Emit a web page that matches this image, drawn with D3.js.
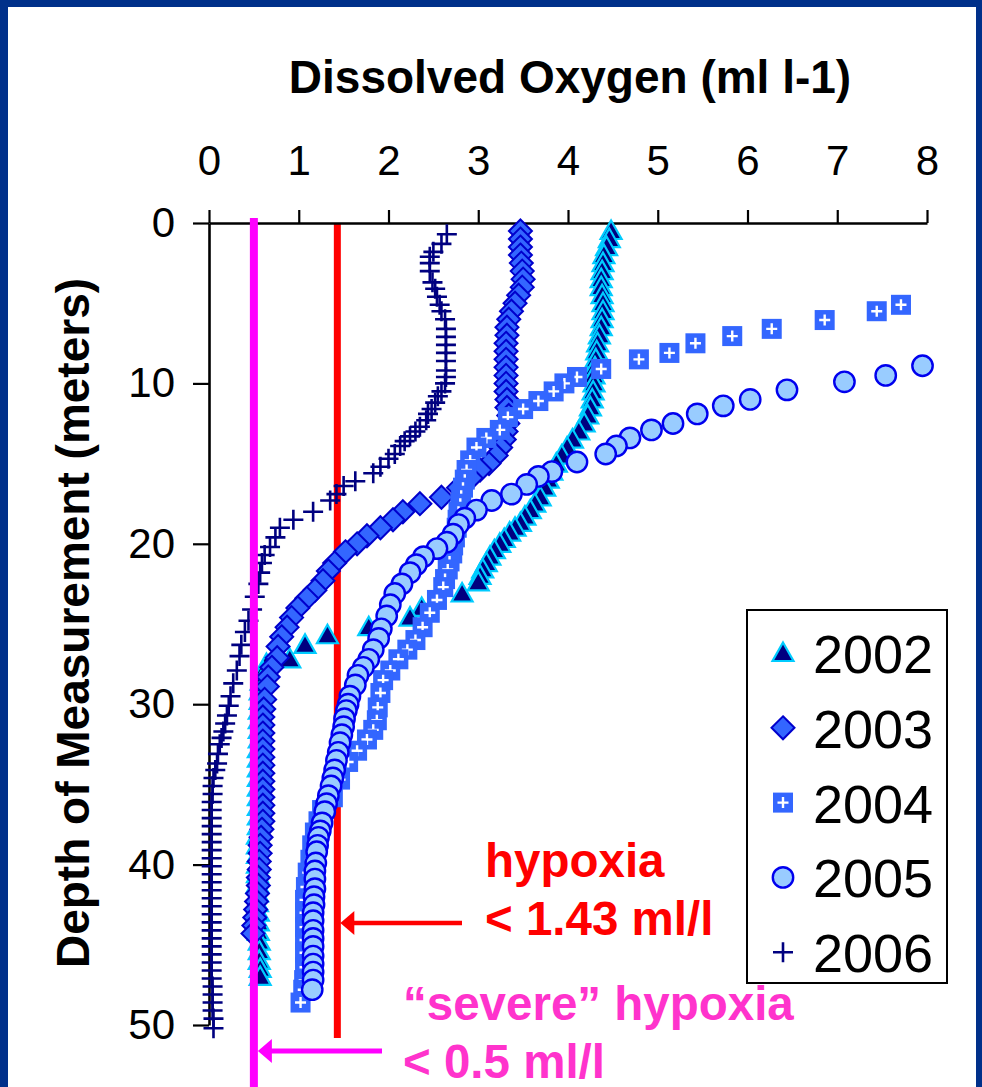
<!DOCTYPE html>
<html>
<head>
<meta charset="utf-8">
<script src="https://cdn.jsdelivr.net/npm/d3@7"></script>
<style>
  html, body { margin: 0; padding: 0; background: #ffffff; }
  svg { display: block; font-family: "Liberation Sans", Arial, sans-serif; }
</style>
</head>
<body>
<svg id="chart" width="982" height="1087"></svg>
<script>
// Dissolved oxygen profiles: [oxygen (ml/l), depth (m)]
const oxygenTicks = [0, 1, 2, 3, 4, 5, 6, 7, 8];
const depthTicks = [0, 10, 20, 30, 40, 50];
const years = ["2002", "2003", "2004", "2005", "2006"];

const profile2002 = [
  [4.48,0.5],[4.46,1.0],[4.43,1.5],[4.40,2.0],[4.39,2.5],[4.38,3.0],[4.37,3.5],[4.37,4.0],
  [4.38,4.5],[4.39,5.0],[4.39,5.5],[4.38,6.0],[4.37,6.5],[4.35,7.0],[4.33,7.5],[4.32,8.0],
  [4.31,8.5],[4.30,9.0],[4.29,9.5],[4.29,10.0],[4.28,10.5],[4.27,11.0],[4.25,11.5],[4.22,12.0],
  [4.18,12.5],[4.12,13.0],[4.05,13.5],[3.99,14.0],[3.93,14.5],[3.87,15.0],[3.82,15.5],[3.78,16.0],
  [3.74,16.5],[3.69,17.1],[3.63,17.5],[3.58,17.9],[3.52,18.3],[3.47,18.7],[3.41,19.0],[3.35,19.3],
  [3.29,19.7],[3.24,20.0],[3.18,20.4],[3.13,20.8],[3.09,21.2],[3.05,21.6],[3.02,22.0],[3.00,22.4],
  [2.82,23.1],[2.37,24.0],[2.24,24.6],[1.78,25.2],[1.32,25.7],[1.07,26.3],[0.90,27.2],[0.64,27.5],
  [0.60,28.0],[0.58,28.6],[0.57,29.2],[0.57,29.8],[0.56,30.4],[0.56,31.0],[0.56,31.6],[0.56,32.2],
  [0.55,32.8],[0.55,33.4],[0.55,34.0],[0.55,34.6],[0.55,35.2],[0.55,35.8],[0.55,36.4],[0.55,37.0],
  [0.55,37.6],[0.54,38.2],[0.54,38.8],[0.54,39.4],[0.54,40.0],[0.54,40.6],[0.54,41.2],[0.54,41.8],
  [0.54,42.4],[0.55,43.0],[0.55,43.6],[0.55,44.2],[0.56,44.8],[0.56,45.4],[0.56,46.0],[0.57,46.5],
  [0.57,47.0]
];

const profile2003 = [
  [3.47,0.5],[3.47,1.0],[3.47,1.5],[3.47,2.0],[3.48,2.5],[3.49,3.0],[3.50,3.5],[3.49,4.0],
  [3.45,4.5],[3.41,5.0],[3.37,5.5],[3.34,6.0],[3.32,6.5],[3.32,7.0],[3.31,7.5],[3.31,8.0],
  [3.31,8.5],[3.31,9.0],[3.31,9.5],[3.31,10.0],[3.31,10.5],[3.32,11.0],[3.32,11.5],[3.34,12.0],
  [3.33,12.5],[3.31,13.0],[3.29,13.5],[3.25,14.0],[3.20,14.5],[3.12,15.0],[3.02,15.4],[2.92,15.9],
  [2.78,16.5],[2.59,17.1],[2.35,17.5],[2.16,18.0],[2.05,18.5],[1.91,19.0],[1.76,19.5],[1.65,20.0],
  [1.52,20.5],[1.40,21.2],[1.33,21.7],[1.27,22.3],[1.18,22.9],[1.09,23.4],[0.99,24.0],[0.92,24.6],
  [0.87,25.2],[0.81,25.8],[0.77,26.4],[0.76,27.1],[0.70,27.7],[0.66,28.3],[0.65,28.9],[0.62,29.7],
  [0.61,30.3],[0.60,30.8],[0.60,31.3],[0.60,31.8],[0.60,32.3],[0.60,32.8],[0.60,33.3],[0.60,33.8],
  [0.60,34.3],[0.60,34.8],[0.60,35.3],[0.60,35.8],[0.60,36.3],[0.60,36.8],[0.60,37.3],[0.59,37.8],
  [0.58,38.3],[0.57,38.8],[0.57,39.3],[0.56,39.8],[0.56,40.3],[0.55,40.8],[0.55,41.3],[0.54,41.8],
  [0.53,42.3],[0.52,42.8],[0.51,43.3],[0.50,43.8],[0.49,44.3]
];

const profile2004 = [
  [7.71,5.1],[7.44,5.5],[6.86,6.05],[6.27,6.6],[5.83,7.05],[5.42,7.5],[5.13,8.1],[4.79,8.5],
  [4.37,9.1],[4.10,9.6],[3.96,10.0],[3.84,10.5],[3.67,11.1],[3.50,11.6],[3.33,12.1],[3.24,12.9],
  [3.09,13.4],[2.98,14.0],[2.91,14.8],[2.87,15.4],[2.85,16.0],[2.83,16.5],[2.81,17.0],[2.80,17.5],
  [2.78,18.0],[2.77,18.5],[2.76,19.0],[2.74,19.6],[2.72,20.1],[2.71,20.6],[2.68,21.1],[2.66,21.6],
  [2.63,22.2],[2.61,22.7],[2.54,23.5],[2.46,24.3],[2.38,25.2],[2.30,26.0],[2.21,26.6],[2.11,27.2],
  [2.02,27.9],[1.94,28.5],[1.91,29.3],[1.88,30.2],[1.87,31.0],[1.83,31.6],[1.76,32.2],[1.65,32.9],
  [1.55,33.6],[1.46,34.7],[1.38,35.8],[1.26,36.6],[1.22,37.3],[1.18,38.0],[1.15,38.8],[1.13,39.7],
  [1.10,40.5],[1.08,41.4],[1.07,42.2],[1.07,43.0],[1.07,43.9],[1.07,44.7],[1.07,45.5],[1.07,46.4],
  [1.06,47.2],[1.05,47.8],[1.02,48.6]
];

const profile2005 = [
  [7.95,8.9],[7.54,9.5],[7.08,9.9],[6.44,10.4],[6.03,11.0],[5.73,11.4],[5.44,11.9],[5.17,12.5],
  [4.93,12.9],[4.69,13.4],[4.54,13.9],[4.42,14.4],[4.10,14.9],[3.82,15.5],[3.67,15.8],[3.54,16.3],
  [3.37,16.9],[3.15,17.3],[2.98,17.9],[2.85,18.4],[2.78,18.8],[2.72,19.4],[2.65,19.9],[2.54,20.3],
  [2.39,20.8],[2.31,21.3],[2.24,21.8],[2.15,22.5],[2.07,23.1],[2.02,23.8],[1.98,24.5],[1.92,25.3],
  [1.89,25.9],[1.83,26.6],[1.78,27.2],[1.72,27.7],[1.66,28.2],[1.63,28.8],[1.57,29.5],[1.55,30.0],
  [1.53,30.4],[1.51,30.9],[1.50,31.4],[1.48,31.9],[1.46,32.4],[1.44,33.0],[1.42,33.5],[1.40,34.1],
  [1.38,34.6],[1.36,35.1],[1.33,35.7],[1.31,36.2],[1.29,36.7],[1.26,37.4],[1.24,37.9],[1.22,38.3],
  [1.21,38.8],[1.20,39.2],[1.19,39.9],[1.18,40.4],[1.18,40.9],[1.18,41.5],[1.17,42.0],[1.17,42.5],
  [1.16,43.0],[1.16,43.5],[1.16,44.1],[1.16,44.6],[1.16,45.1],[1.16,45.7],[1.16,46.2],[1.16,46.7],
  [1.16,47.2],[1.15,47.8]
];

const profile2006 = [
  [2.65,0.7],[2.59,1.3],[2.50,1.8],[2.46,2.1],[2.46,2.5],[2.46,3.0],[2.49,3.7],[2.52,4.1],
  [2.54,4.6],[2.57,5.1],[2.59,5.5],[2.63,6.0],[2.64,6.6],[2.64,7.1],[2.64,7.6],[2.64,8.1],
  [2.64,8.6],[2.64,9.2],[2.64,9.6],[2.63,10.0],[2.59,10.5],[2.55,10.8],[2.52,11.2],[2.48,11.6],
  [2.44,11.9],[2.42,12.3],[2.35,12.7],[2.30,13.0],[2.24,13.3],[2.18,13.6],[2.13,13.9],[2.07,14.4],
  [2.00,14.7],[1.91,15.2],[1.83,15.6],[1.63,16.1],[1.50,16.4],[1.42,16.9],[1.35,17.3],[1.16,18.0],
  [0.94,18.5],[0.79,19.0],[0.74,19.6],[0.68,20.2],[0.62,20.7],[0.59,21.2],[0.57,21.8],[0.55,22.5],
  [0.51,23.3],[0.48,24.1],[0.44,24.8],[0.40,25.5],[0.36,26.3],[0.34,27.0],[0.31,27.9],[0.27,28.7],
  [0.24,29.5],[0.22,30.1],[0.20,30.7],[0.18,31.2],[0.16,31.7],[0.14,32.1],[0.12,32.5],[0.10,33.1],
  [0.09,33.7],[0.07,34.1],[0.05,34.6],[0.04,35.1],[0.04,35.6],[0.03,36.1],[0.03,36.6],[0.03,37.1],
  [0.03,37.6],[0.03,38.1],[0.03,38.6],[0.03,39.1],[0.03,39.6],[0.03,40.1],[0.03,40.6],[0.03,41.1],
  [0.03,41.6],[0.03,42.1],[0.03,42.6],[0.03,43.1],[0.03,43.6],[0.03,44.1],[0.03,44.6],[0.03,45.1],
  [0.03,45.6],[0.03,46.1],[0.03,46.6],[0.03,47.1],[0.04,47.6],[0.04,48.1],[0.04,48.6],[0.04,49.1],
  [0.05,49.6],[0.05,50.2]
];

const hypoxiaLimit = 1.43;
const severeLimit = 0.5;

// ---------------------------------------------------------------------------
const svg = d3.select("#chart");
const W = 982, H = 1087;

svg.append("rect").attr("width", W).attr("height", H).attr("fill", "#ffffff");

const x = d3.scaleLinear().domain([0, 8]).range([209, 927]);
const y = d3.scaleLinear().domain([0, 50]).range([223, 1025]);

// Marker glyphs, one per year
const glyph = {
  "2002": g => g.append("path").attr("d", "M0,-10.5L10.5,8L-10.5,8Z")
            .attr("fill", "#000080").attr("stroke", "#00ccff").attr("stroke-width", 2.2)
            .attr("stroke-linejoin", "miter"),
  "2003": g => g.append("path").attr("d", "M0,-11.5L11.5,0L0,11.5L-11.5,0Z")
            .attr("fill", "#3366ff").attr("stroke", "#0000cc").attr("stroke-width", 2),
  "2004": g => {
    g.append("rect").attr("x", -10).attr("y", -10).attr("width", 20).attr("height", 20)
      .attr("fill", "#3366ff");
    g.append("path").attr("d", "M-5.5,0H5.5M0,-5.5V5.5")
      .attr("stroke", "#ffffff").attr("stroke-width", 2.4).attr("fill", "none");
  },
  "2005": g => g.append("circle").attr("r", 10.2)
            .attr("fill", "#99ccff").attr("stroke", "#0000ee").attr("stroke-width", 2.4),
  "2006": g => g.append("path").attr("d", "M-10,0H10M0,-10V10")
            .attr("stroke", "#000080").attr("stroke-width", 2.6).attr("fill", "none")
};

const profiles = {
  "2002": profile2002, "2003": profile2003, "2004": profile2004,
  "2005": profile2005, "2006": profile2006
};

// Hypoxia threshold (under the markers)
svg.append("line")
  .attr("x1", x(hypoxiaLimit)).attr("x2", x(hypoxiaLimit))
  .attr("y1", y(0)).attr("y2", 1038)
  .attr("stroke", "#ff0000").attr("stroke-width", 7);

// Axes
const axisX = svg.append("g")
  .attr("transform", `translate(0,${y(0)})`)
  .call(d3.axisTop(x).tickValues(oxygenTicks).tickSize(13).tickSizeOuter(0).tickPadding(35));
const axisY = svg.append("g")
  .attr("transform", `translate(${x(0)},0)`)
  .call(d3.axisLeft(y).tickValues(depthTicks).tickSize(16).tickSizeOuter(0).tickPadding(18));

[axisX, axisY].forEach(a => {
  a.select(".domain").attr("stroke", "#000").attr("stroke-width", 2.6);
  a.selectAll(".tick line").attr("stroke", "#000").attr("stroke-width", 2.2);
  a.selectAll(".tick text").attr("fill", "#000")
    .attr("font-size", 42).attr("font-family", "Liberation Sans, Arial, sans-serif");
});

// Data markers
years.forEach(yr => {
  const layer = svg.append("g").attr("class", "series-" + yr);
  layer.selectAll("g.pt")
    .data(profiles[yr])
    .join("g")
    .attr("class", "pt")
    .attr("transform", d => `translate(${x(d[0])},${y(d[1])})`)
    .each(function () { glyph[yr](d3.select(this)); });
});

// Severe hypoxia threshold (drawn over the markers)
svg.append("line")
  .attr("x1", x(severeLimit)).attr("x2", x(severeLimit))
  .attr("y1", 218).attr("y2", H)
  .attr("stroke", "#ff00ff").attr("stroke-width", 8);

// Axis titles
svg.append("text")
  .attr("x", 570).attr("y", 93)
  .attr("text-anchor", "middle")
  .attr("font-size", 46).attr("font-weight", "bold").attr("fill", "#000")
  .text("Dissolved Oxygen (ml l-1)");

svg.append("text")
  .attr("transform", "translate(89,623) rotate(-90)")
  .attr("text-anchor", "middle")
  .attr("font-size", 46).attr("font-weight", "bold").attr("fill", "#000")
  .text("Depth of Measurement (meters)");

// Threshold annotations with arrows
function arrow(yPos, xFrom, xTip, color, width, headLen, headHalf) {
  svg.append("line")
    .attr("x1", xFrom).attr("x2", xTip + headLen - 1)
    .attr("y1", yPos).attr("y2", yPos)
    .attr("stroke", color).attr("stroke-width", width);
  svg.append("path")
    .attr("d", `M${xTip},${yPos}L${xTip + headLen},${yPos - headHalf}L${xTip + headLen},${yPos + headHalf}Z`)
    .attr("fill", color);
}

arrow(923, 462, x(hypoxiaLimit) + 3, "#ff0000", 4.5, 14, 12);
arrow(1051, 382, x(severeLimit) + 4, "#ff00ff", 5, 14, 12);

const noteFont = { size: 47.5, weight: "bold" };
[["hypoxia", 485, 877, "#ff0000"],
 ["< 1.43 ml/l", 485, 935, "#ff0000"],
 ["\u201Csevere\u201D hypoxia", 403, 1020, "#ff33cc"],
 ["< 0.5 ml/l", 403, 1078, "#ff33cc"]].forEach(([t, tx, ty, c]) => {
  svg.append("text")
    .attr("x", tx).attr("y", ty)
    .attr("font-size", noteFont.size).attr("font-weight", noteFont.weight)
    .attr("fill", c).text(t);
});

// Legend
const legend = svg.append("g");
legend.append("rect")
  .attr("x", 747).attr("y", 610).attr("width", 200).attr("height", 373)
  .attr("fill", "#ffffff").attr("stroke", "#000").attr("stroke-width", 2);
years.forEach((yr, i) => {
  const cy = 653 + i * 74.8;
  glyph[yr](legend.append("g").attr("transform", `translate(783,${cy})`));
  legend.append("text")
    .attr("x", 813).attr("y", cy + 20)
    .attr("font-size", 54).attr("fill", "#000")
    .text(yr);
});

// Slide frame
svg.append("rect").attr("x", 0).attr("y", 0).attr("width", W).attr("height", 7).attr("fill", "#00308a");
svg.append("rect").attr("x", 0).attr("y", 0).attr("width", 8).attr("height", H).attr("fill", "#00308a");
svg.append("rect").attr("x", W - 6).attr("y", 0).attr("width", 6).attr("height", H).attr("fill", "#00308a");
</script>
</body>
</html>
